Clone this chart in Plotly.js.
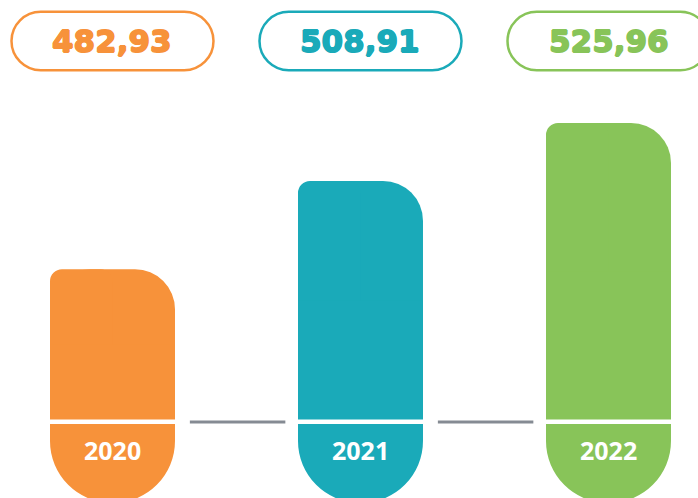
<!DOCTYPE html>
<html>
<head>
<meta charset="utf-8">
<script src="https://cdn.plot.ly/plotly-3.0.1.min.js"></script>
<style>
  html, body { margin: 0; padding: 0; background: #ffffff; }
  #chart { width: 698px; height: 498px; }
</style>
</head>
<body>
<div id="chart"></div>
<script>
// ---- data ----
const years = ['2020', '2021', '2022'];
const values = [482.93, 508.91, 525.96];
const valueLabels = ['482,93', '508,91', '525,96'];
const colors = ['#F7923A', '#1AAAB9', '#88C459'];

// ---- layout geometry ----
const W = 698, H = 498;
const Y_MIN = 415.64, Y_MAX = 562.11;            // y-axis range (value units)
const X_MIN = -0.4536, X_MAX = 2.3609;           // x-axis range
const valAtPx = px => Y_MAX - px * (Y_MAX - Y_MIN) / H;
const paperAtPx = px => 1 - px / H;

const UPPER_BASE = valAtPx(419.5);   // bottom of coloured column
const GAP_TOP_PX = 419.5, GAP_BOTTOM_PX = 424;
const CAP_BOTTOM = valAtPx(503);     // bottom of year cap
const CAP_HIDDEN_TOP = valAtPx(300); // cap continues behind the column
const BAR_W = 0.504;

const xs = years.map((_, i) => i);
const heights = values.map(v => v - UPPER_BASE);

const traces = [
  // year cap (its top end is hidden behind the column)
  {
    type: 'bar', x: xs, y: xs.map(() => CAP_HIDDEN_TOP - CAP_BOTTOM), base: CAP_BOTTOM,
    width: BAR_W, marker: { color: colors, cornerradius: 62, line: { width: 0 } },
    hoverinfo: 'skip'
  },
  // main column: large rounded corners on top
  {
    type: 'bar', x: xs, y: heights, base: UPPER_BASE,
    width: BAR_W, marker: { color: colors, cornerradius: 40, line: { width: 0 } },
    hoverinfo: 'skip'
  },
  // left half: small top-left corner
  {
    type: 'bar', x: xs, y: heights, base: UPPER_BASE,
    width: BAR_W / 2, offset: -BAR_W / 2,
    marker: { color: colors, cornerradius: 12, line: { width: 0 } },
    hoverinfo: 'skip'
  },
  // square lower half of the column
  {
    type: 'bar', x: xs, y: heights.map(h => h / 2), base: UPPER_BASE,
    width: BAR_W, marker: { color: colors, cornerradius: 0, line: { width: 0 } },
    hoverinfo: 'skip'
  }
];

// pill-shaped value boxes (pixel-sized paths anchored on each bar)
function pillPath(w, h) {
  const r = h / 2, a = w / 2 - r, k = 0.5523 * r;
  return `M${-a},${r} L${a},${r} ` +
    `C${a + k},${r} ${a + r},${k} ${a + r},0 ` +
    `C${a + r},${-k} ${a + k},${-r} ${a},${-r} ` +
    `L${-a},${-r} ` +
    `C${-a - k},${-r} ${-a - r},${-k} ${-a - r},0 ` +
    `C${-a - r},${k} ${-a - k},${r} ${-a},${r} Z`;
}

const BOX_Y = paperAtPx(41);
const shapes = [];
xs.forEach((x, i) => {
  shapes.push({
    type: 'path', xref: 'x', yref: 'paper',
    xsizemode: 'pixel', ysizemode: 'pixel', xanchor: x, yanchor: BOX_Y,
    path: pillPath(202, 58.5),
    line: { color: colors[i], width: 2.5 }, fillcolor: 'rgba(0,0,0,0)'
  });
  // white gap between column and year cap
  shapes.push({
    type: 'rect', xref: 'x', yref: 'paper', layer: 'above',
    x0: x - BAR_W / 2 - 0.01, x1: x + BAR_W / 2 + 0.01,
    y0: paperAtPx(GAP_BOTTOM_PX), y1: paperAtPx(GAP_TOP_PX),
    fillcolor: '#ffffff', line: { width: 0 }
  });
});
// grey connectors between columns
for (let i = 0; i < xs.length - 1; i++) {
  shapes.push({
    type: 'line', xref: 'x', yref: 'paper',
    x0: xs[i] + 0.312, x1: xs[i] + 0.697,
    y0: paperAtPx(422), y1: paperAtPx(422),
    line: { color: '#858B93', width: 3 }
  });
}

const annotations = [];
xs.forEach((x, i) => {
  const c = colors[i];
  annotations.push({
    x: x, y: BOX_Y, xref: 'x', yref: 'paper', text: valueLabels[i],
    showarrow: false, xanchor: 'center', yanchor: 'middle',
    font: {
      family: 'DejaVu Sans, sans-serif', size: 31, color: c, weight: 'bold',
      shadow: `0.7px 0 0 ${c}, -0.7px 0 0 ${c}, 0 0.6px 0 ${c}, 0 -0.6px 0 ${c}`
    }
  });
  annotations.push({
    x: x, y: paperAtPx(450), xref: 'x', yref: 'paper', text: years[i],
    showarrow: false, xanchor: 'center', yanchor: 'middle',
    font: { family: 'Open Sans, sans-serif', size: 25, color: '#ffffff', weight: 'bold' }
  });
});

const layout = {
  width: W, height: H,
  margin: { l: 0, r: 0, t: 0, b: 0, pad: 0 },
  paper_bgcolor: '#ffffff', plot_bgcolor: '#ffffff',
  barmode: 'overlay', showlegend: false, hovermode: false,
  xaxis: { range: [X_MIN, X_MAX], visible: false, fixedrange: true },
  yaxis: { range: [Y_MIN, Y_MAX], visible: false, fixedrange: true },
  shapes: shapes, annotations: annotations
};

Plotly.newPlot('chart', traces, layout, { displayModeBar: false, staticPlot: true });
</script>
</body>
</html>
